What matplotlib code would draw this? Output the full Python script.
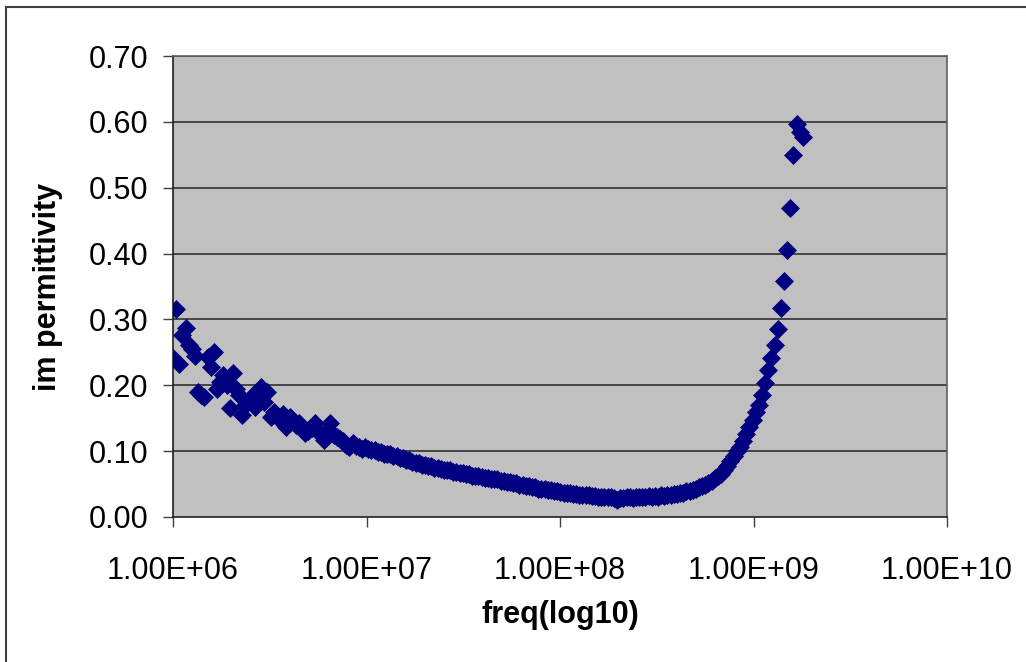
#!/usr/bin/env python3
"""Imaginary permittivity vs. frequency, Excel-style scatter."""

import matplotlib

matplotlib.use("Agg")

import matplotlib.pyplot as plt
from matplotlib.lines import Line2D
from matplotlib.ticker import FixedLocator, NullLocator

# sweep frequencies in MHz (201 log-spaced points, 1 MHz .. 1.8 GHz)
freq_mhz = [
    1.000, 1.0382, 1.0778, 1.1190, 1.1617, 1.2061, 1.2522, 1.3000, 1.3496, 1.4012,
    1.4547, 1.5102, 1.5679, 1.6278, 1.6899, 1.7545, 1.8215, 1.8910, 1.9633, 2.0382,
    2.1161, 2.1968, 2.2808, 2.3679, 2.4583, 2.5522, 2.6497, 2.7508, 2.8559, 2.9650,
    3.0782, 3.1957, 3.3178, 3.4445, 3.5760, 3.7126, 3.8544, 4.0015, 4.1544, 4.3130,
    4.4777, 4.6487, 4.8262, 5.0106, 5.2019, 5.4006, 5.6068, 5.8209, 6.0432, 6.2740,
    6.5136, 6.7623, 7.0206, 7.2887, 7.5670, 7.8560, 8.1560, 8.4675, 8.7909, 9.1266,
    9.4751, 9.8369,
    10.213, 10.603, 11.008, 11.428, 11.865, 12.318, 12.788, 13.276, 13.783, 14.310,
    14.856, 15.423, 16.012, 16.624, 17.258, 17.918, 18.602, 19.312, 20.050, 20.816,
    21.611, 22.436, 23.293, 24.182, 25.106, 26.064, 27.060, 28.093, 29.166, 30.280,
    31.436, 32.637, 33.883, 35.177, 36.520, 37.915, 39.363, 40.866, 42.427, 44.047,
    45.729, 47.476, 49.288, 51.171, 53.125, 55.154, 57.260, 59.446, 61.717, 64.074,
    66.521, 69.061, 71.699, 74.436, 77.279, 80.230, 83.294, 86.474, 89.777, 93.206,
    96.766, 100.46,
    104.30, 108.28, 112.42, 116.71, 121.17, 125.79, 130.60, 135.58, 140.76, 146.14,
    151.72, 157.51, 163.53, 169.77, 176.26, 182.99, 189.97, 197.23, 204.76, 212.58,
    220.70, 229.13, 237.88, 246.96, 256.40, 266.18, 276.35, 286.91, 297.86, 309.24,
    321.05, 333.31, 346.04, 359.25, 372.97, 387.21, 402.00, 417.35, 433.29, 449.83,
    467.01, 484.85, 503.36, 522.59, 542.54, 563.26, 584.77, 607.10, 630.29, 654.36,
    679.35, 705.29, 732.23, 760.19, 789.22, 819.36, 850.65, 883.14, 916.86, 951.87,
    988.23, 1025.96,
    1065.1, 1105.8, 1148.1, 1191.9, 1237.4, 1284.7, 1333.8, 1384.7, 1437.6, 1492.5,
    1549.4, 1608.6, 1670.1, 1733.8, 1800.0,
]

im_perm = [
    0.242, 0.316, 0.233, 0.277, 0.287, 0.261, 0.255, 0.245, 0.190, 0.186,
    0.182, 0.243, 0.228, 0.251, 0.195, 0.205, 0.216, 0.200, 0.165, 0.218,
    0.195, 0.185, 0.155, 0.170, 0.178, 0.183, 0.167, 0.190, 0.198, 0.175,
    0.190, 0.152, 0.160, 0.155, 0.148, 0.157, 0.137, 0.152, 0.145, 0.140,
    0.142, 0.135, 0.127, 0.130, 0.135, 0.142, 0.130, 0.125, 0.117, 0.130,
    0.142, 0.125, 0.122, 0.118, 0.115, 0.110, 0.107, 0.112, 0.108, 0.106,
    0.104, 0.107,
    0.104, 0.102, 0.102, 0.099, 0.099, 0.096, 0.095, 0.095, 0.092, 0.092,
    0.089, 0.089, 0.086, 0.086, 0.084, 0.082, 0.082, 0.079, 0.079, 0.077,
    0.077, 0.075, 0.075, 0.073, 0.072, 0.071, 0.071, 0.069, 0.069, 0.067,
    0.067, 0.065, 0.065, 0.063, 0.062, 0.062, 0.060, 0.059, 0.059, 0.058,
    0.057, 0.057, 0.055, 0.055, 0.053, 0.053, 0.051, 0.051, 0.049, 0.049,
    0.047, 0.047, 0.045, 0.045, 0.043, 0.043, 0.042, 0.041, 0.041, 0.040,
    0.039, 0.038,
    0.037, 0.037, 0.036, 0.035, 0.035, 0.034, 0.034, 0.033, 0.033, 0.032,
    0.032, 0.031, 0.031, 0.030, 0.030, 0.030, 0.029, 0.026, 0.029, 0.029,
    0.030, 0.030, 0.029, 0.031, 0.030, 0.031, 0.030, 0.032, 0.031, 0.032,
    0.031, 0.033, 0.032, 0.034, 0.033, 0.035, 0.035, 0.037, 0.037, 0.039,
    0.040, 0.041, 0.043, 0.045, 0.047, 0.049, 0.052, 0.055, 0.059, 0.062,
    0.066, 0.071, 0.077, 0.085, 0.093, 0.100, 0.107, 0.116, 0.126, 0.136,
    0.148, 0.160,
    0.170, 0.185, 0.203, 0.223, 0.241, 0.261, 0.286, 0.317, 0.359, 0.405,
    0.469, 0.550, 0.597, 0.585, 0.577,
]

freq_hz = [f * 1e6 for f in freq_mhz]

x_ticks = [1e6, 1e7, 1e8, 1e9, 1e10]
x_tick_labels = ["1.00E+06", "1.00E+07", "1.00E+08", "1.00E+09", "1.00E+10"]
y_ticks = [0.0, 0.1, 0.2, 0.3, 0.4, 0.5, 0.6, 0.7]

plt.rcParams["font.family"] = ["Liberation Sans", "DejaVu Sans"]

fig = plt.figure(figsize=(10.26, 6.62), dpi=100)
ax = fig.add_axes([173 / 1026, 1 - 517 / 662, (947 - 173) / 1026, (517 - 56) / 662])
ax.set_facecolor("#c0c0c0")

ax.plot(
    freq_hz,
    im_perm,
    linestyle="none",
    marker="D",
    markersize=9.4,
    color="#000080",
    markeredgecolor="#000080",
    markeredgewidth=0.5,
    zorder=3,
)

ax.set_xscale("log")
ax.set_xlim(1e6, 1e10)
ax.set_ylim(0, 0.7)
ax.xaxis.set_major_locator(FixedLocator(x_ticks))
ax.xaxis.set_minor_locator(NullLocator())
ax.set_xticklabels(x_tick_labels)
ax.set_yticks(y_ticks)
ax.set_yticklabels([f"{v:.2f}" for v in y_ticks])

for y in y_ticks[1:]:
    ax.axhline(y, color="#303030", linewidth=1.2, zorder=1)

ax.tick_params(axis="both", direction="out", length=7, width=1, color="#404040", labelsize=22)
ax.tick_params(axis="y", pad=11)
ax.tick_params(axis="x", pad=21)

for side in ["left", "bottom"]:
    ax.spines[side].set_color("#202020")
    ax.spines[side].set_linewidth(1.2)
for side in ["top", "right"]:
    ax.spines[side].set_color("#606060")
    ax.spines[side].set_linewidth(1.2)

ax.set_xlabel("freq(log10)", fontsize=22, fontweight="bold", labelpad=10)
ax.set_ylabel("im permittivity", fontsize=22, fontweight="bold", labelpad=18)

# chart-area border (only the top and left edges are inside the picture)
fig.add_artist(Line2D([6 / 1026, 1.0], [1 - 7 / 662, 1 - 7 / 662], color="#404040", linewidth=1.5))
fig.add_artist(Line2D([6 / 1026, 6 / 1026], [0.0, 1 - 7 / 662], color="#404040", linewidth=1.5))

fig.savefig("out.png", dpi=100)
